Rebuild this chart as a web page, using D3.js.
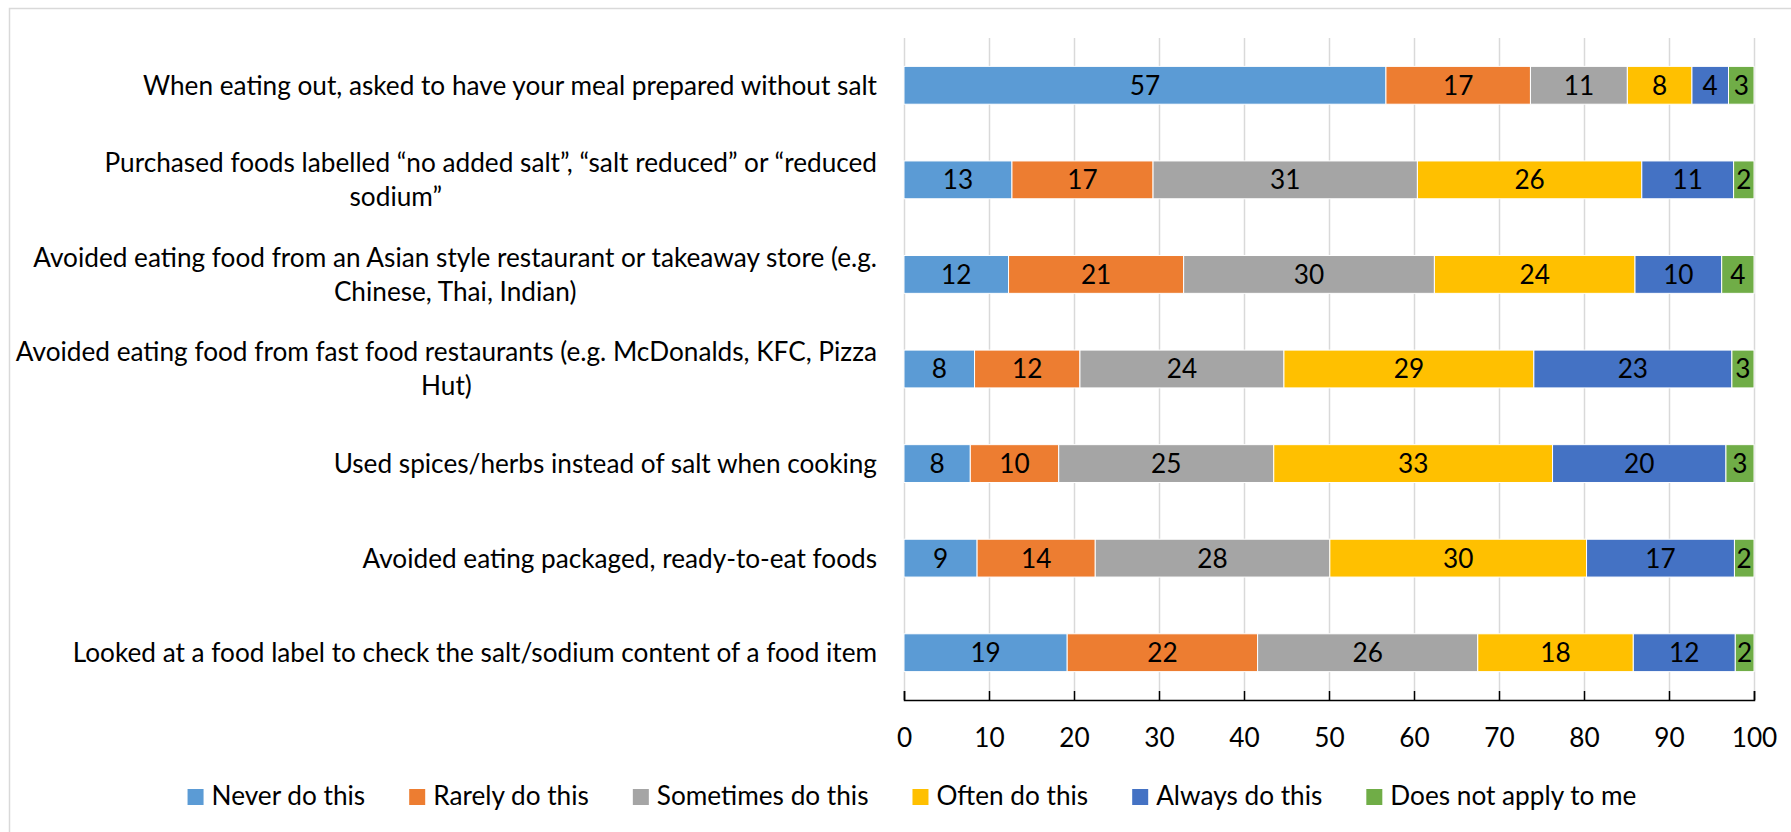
<!DOCTYPE html>
<html>
<head>
<meta charset="utf-8">
<script src="https://cdn.jsdelivr.net/npm/d3@7"></script>
<style>
  html, body { margin: 0; padding: 0; background: #fff; }
  svg { display: block; font-family: Lato, "Open Sans", sans-serif; }
</style>
</head>
<body>
<svg id="chart" width="1791" height="832"></svg>
<script>
// ---------------- DATA ----------------
const categories = [
  "When eating out, asked to have your meal prepared without salt",
  "Purchased foods labelled “no added salt”, “salt reduced” or “reduced\nsodium”",
  "Avoided eating food from an Asian style restaurant or takeaway store (e.g.\nChinese, Thai, Indian)",
  "Avoided eating food from fast food restaurants (e.g. McDonalds, KFC, Pizza\nHut)",
  "Used spices/herbs instead of salt when cooking",
  "Avoided eating packaged, ready-to-eat foods",
  "Looked at a food label to check the salt/sodium content of a food item"
];
const seriesNames = ["Never do this", "Rarely do this", "Sometimes do this", "Often do this", "Always do this", "Does not apply to me"];
const neverVals     = [56.7, 12.7, 12.3,  8.3,  7.8,  8.6, 19.2];
const rarelyVals    = [17.0, 16.6, 20.6, 12.4, 10.4, 13.9, 22.4];
const sometimesVals = [11.4, 31.1, 29.5, 24.0, 25.3, 27.6, 25.9];
const oftenVals     = [ 7.6, 26.4, 23.6, 29.4, 32.8, 30.2, 18.3];
const alwaysVals    = [ 4.3, 10.8, 10.2, 23.3, 20.4, 17.4, 12.0];
const notApplyVals  = [ 3.0,  2.4,  3.8,  2.6,  3.3,  2.3,  2.2];
const xTicks = [0, 10, 20, 30, 40, 50, 60, 70, 80, 90, 100];
const colors = ["#5B9BD5", "#ED7D31", "#A5A5A5", "#FFC000", "#4472C4", "#70AD47"];

// ---------------- LAYOUT ----------------
const FONT = 26.2;
const svg = d3.select("#chart");
const plotLeft = 904, plotRight = 1754, plotTop = 38, plotBottom = 700;
const labelRight = 877;
// horizontal nudge (px) for wrapped second lines, by category index
const wrapShift = { 1: -95 };

const seriesVals = [neverVals, rarelyVals, sometimesVals, oftenVals, alwaysVals, notApplyVals];
const rows = categories.map((c, i) => {
  const r = { cat: c };
  seriesNames.forEach((s, j) => { r[s] = seriesVals[j][i]; });
  return r;
});
const stacked = d3.stack().keys(seriesNames)(rows);

const x = d3.scaleLinear().domain([0, 100]).range([plotLeft, plotRight]);
const y = d3.scaleBand().domain(categories).range([plotTop, plotBottom]).paddingInner(0.6).paddingOuter(0.3);
const color = d3.scaleOrdinal().domain(seriesNames).range(colors);

// chart border
svg.append("rect").attr("x", 9.5).attr("y", 8.5).attr("width", 1800).attr("height", 840)
  .attr("fill", "#fff").attr("stroke", "#d9d9d9").attr("stroke-width", 1.5);

// gridlines
const grid = svg.append("g").attr("transform", `translate(0,${plotBottom})`)
  .call(d3.axisBottom(x).tickValues(xTicks).tickSize(-(plotBottom - plotTop)).tickFormat(""));
grid.select(".domain").remove();
grid.selectAll("line").attr("stroke", "#d9d9d9").attr("stroke-width", 1.5);

// bars
const layer = svg.append("g").selectAll("g").data(stacked).join("g")
  .attr("fill", d => color(d.key));
layer.selectAll("rect").data(d => d.map(v => ({ v, key: d.key }))).join("rect")
  .attr("x", d => x(d.v[0]))
  .attr("y", d => y(d.v.data.cat))
  .attr("width", d => x(d.v[1]) - x(d.v[0]))
  .attr("height", y.bandwidth())
  .attr("stroke", "#fff").attr("stroke-width", 1);

// data labels
layer.selectAll("text").data(d => d.map(v => ({ v, key: d.key }))).join("text")
  .attr("x", d => (x(d.v[0]) + x(d.v[1])) / 2)
  .attr("y", d => y(d.v.data.cat) + y.bandwidth() / 2)
  .attr("dy", "0.36em")
  .attr("text-anchor", "middle")
  .attr("fill", "#000")
  .attr("font-size", FONT)
  .text(d => d3.format(".0f")(d.v[1] - d.v[0]));

// x axis
const xAxis = svg.append("g").attr("transform", `translate(0,${plotBottom})`)
  .call(d3.axisBottom(x).tickValues(xTicks).tickSize(-9).tickPadding(28));
xAxis.select(".domain").attr("stroke", "#000").attr("stroke-width", 1.5);
xAxis.selectAll(".tick line").attr("stroke", "#000").attr("stroke-width", 1.5);
xAxis.selectAll("text").attr("font-size", FONT).attr("font-family", "Lato, 'Open Sans', sans-serif").attr("fill", "#000");

// category labels
const lineH = 34;
const catG = svg.append("g");
categories.forEach((c, i) => {
  const lines = c.split("\n");
  const t = catG.append("text").attr("font-size", FONT).attr("fill", "#000").attr("text-anchor", "middle");
  const cy = y(c) + y.bandwidth() / 2;
  const spans = lines.map((ln, k) => t.append("tspan")
    .attr("y", cy + (k - (lines.length - 1) / 2) * lineH)
    .attr("dy", "0.36em")
    .text(ln));
  const maxW = d3.max(spans, s => s.node().getComputedTextLength());
  spans.forEach((s, k) => s.attr("x", labelRight - maxW / 2 + (k > 0 && wrapShift[i] ? wrapShift[i] : 0)));
});

// legend
const legend = svg.append("g");
const items = seriesNames.map(s => {
  const g = legend.append("g");
  g.append("rect").attr("width", 16).attr("height", 16).attr("y", 789).attr("fill", color(s));
  const t = g.append("text").attr("x", 24).attr("y", 805).attr("font-size", FONT).attr("fill", "#000").text(s);
  return { g, w: 24 + t.node().getComputedTextLength() };
});
const gap = 44;
const total = d3.sum(items, d => d.w) + gap * (items.length - 1);
let cx = 912 - total / 2;
items.forEach(it => { it.g.attr("transform", `translate(${cx},0)`); cx += it.w + gap; });
</script>
</body>
</html>
